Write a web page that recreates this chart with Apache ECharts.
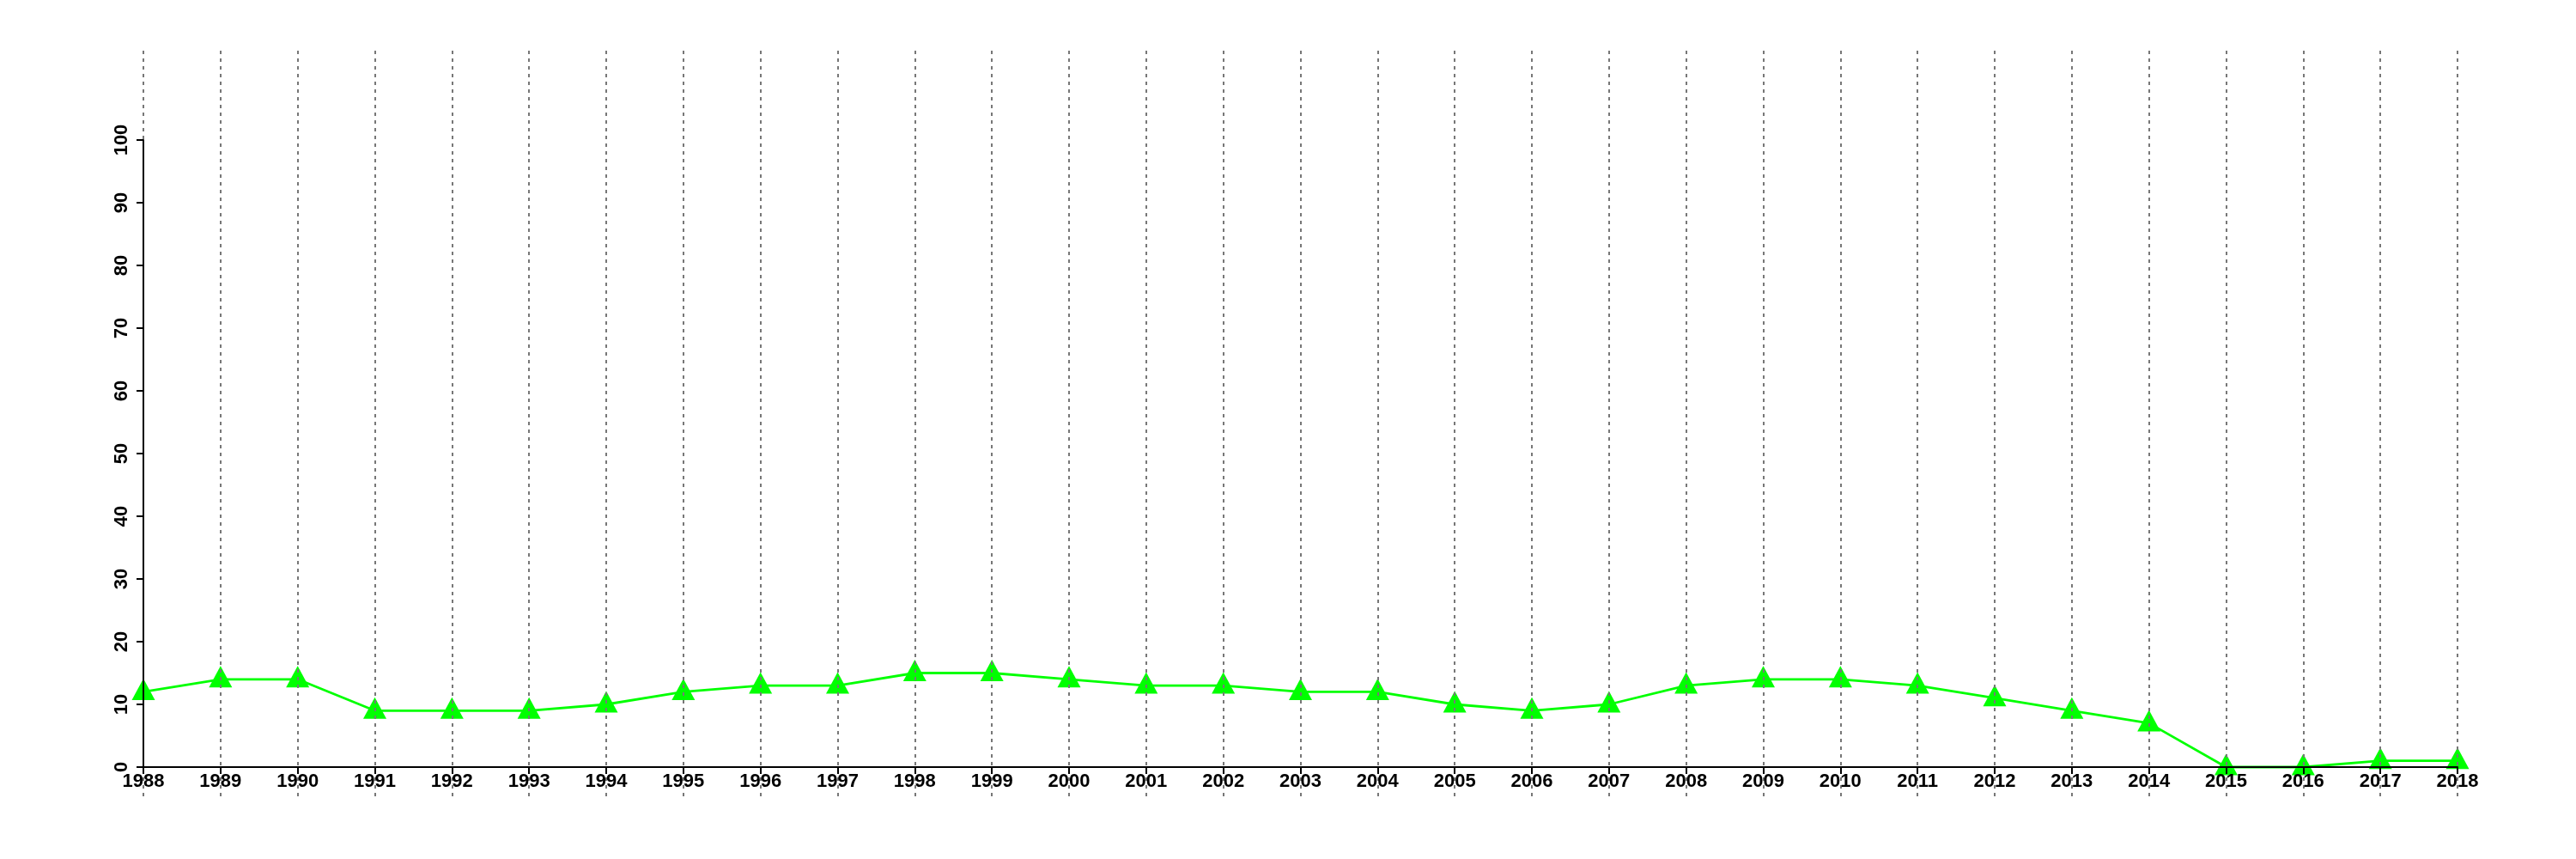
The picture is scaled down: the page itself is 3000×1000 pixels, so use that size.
<!DOCTYPE html>
<html>
<head>
<meta charset="utf-8">
<script src="https://cdn.jsdelivr.net/npm/echarts@6/dist/echarts.min.js"></script>
<style>
html,body{margin:0;padding:0;background:#fff;}
#chart{width:3000px;height:1000px;}
</style>
</head>
<body>
<div id="chart"></div>
<script>
const years = [1988,1989,1990,1991,1992,1993,1994,1995,1996,1997,1998,1999,2000,2001,2002,2003,2004,2005,2006,2007,2008,2009,2010,2011,2012,2013,2014,2015,2016,2017,2018];
const values = [12,14,14,9,9,9,10,12,13,13,15,15,14,13,13,12,12,10,9,10,13,14,14,13,11,9,7,0,0,1,1];
const yTicks = [0,10,20,30,40,50,60,70,80,90,100];

const chart = echarts.init(document.getElementById('chart'), null, {renderer:'canvas'});
const font = {fontFamily:'Liberation Sans', fontWeight:'bold', fontSize:22, color:'#000'};
chart.setOption({
  backgroundColor:'#fff',
  animation:false,
  grid:[
    {left:167, right:138, top:59, bottom:73},
    {left:167, right:138, top:163, bottom:107}
  ],
  xAxis:[
    {gridIndex:0, type:'value', min:years[0], max:years[years.length-1], interval:1, z:5,
     axisLine:{show:false}, axisTick:{show:false}, axisLabel:{show:false},
     splitLine:{show:true, lineStyle:{color:'#777', width:2, type:[4,5]}}},
    {gridIndex:1, type:'value', min:years[0], max:years[years.length-1], interval:1, z:8,
     axisLine:{show:true, lineStyle:{color:'#000', width:2}},
     axisTick:{show:true, length:8, lineStyle:{color:'#000', width:2}},
     axisLabel:Object.assign({margin:6, formatter:v=>String(v)}, font),
     splitLine:{show:false}}
  ],
  yAxis:[
    {gridIndex:0, type:'value', min:0, max:1, show:false, splitLine:{show:false}},
    {gridIndex:1, type:'value', min:yTicks[0], max:yTicks[yTicks.length-1], interval:10, z:8,
     axisLine:{show:true, lineStyle:{color:'#000', width:2}},
     axisTick:{show:true, length:8, lineStyle:{color:'#000', width:2}},
     axisLabel:Object.assign({margin:14, rotate:90}, font),
     splitLine:{show:false}}
  ],
  series:[{
    type:'line',
    xAxisIndex:1, yAxisIndex:1,
    z:2,
    data: years.map((y,i)=>[y, values[i]]),
    symbol:'triangle',
    symbolSize:[27,25],
    symbolOffset:[0,-3],
    showAllSymbol:true,
    clip:false,
    lineStyle:{color:'#00ff00', width:2.8},
    itemStyle:{color:'#00ff00'}
  }]
});
</script>
</body>
</html>
